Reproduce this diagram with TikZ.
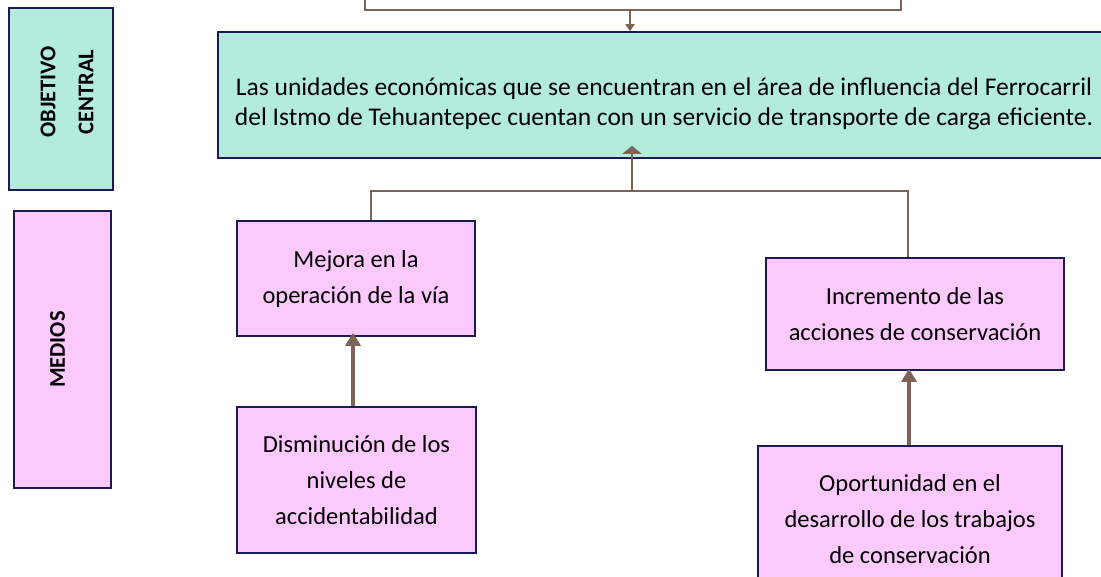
\documentclass[tikz,border=0pt]{standalone}
\usepackage{fontspec}
\setmainfont{Carlito}
\usetikzlibrary{arrows.meta}
\definecolor{mint}{HTML}{B3ECDC}
\definecolor{pinkbox}{HTML}{FCC9FC}
\definecolor{navy}{HTML}{1A1A55}
\definecolor{brownln}{HTML}{7E6357}
\tikzset{
  mintbox/.style={draw=navy, line width=1.6pt, fill=mint, inner sep=0pt},
  pinkbx/.style={draw=navy, line width=1.6pt, fill=pinkbox, inner sep=0pt, align=center,
     font=\fontsize{24.5}{36}\selectfont},
  sidelabel/.style={font=\bfseries\fontsize{22.5}{38}\selectfont, rotate=90, align=center},
  conn/.style={draw=brownln, line width=2.6pt},
  arr/.style={draw=brownln, line width=3.6pt, -{Triangle[width=15pt,length=13pt]}},
  arrsm/.style={draw=brownln, line width=2.4pt, -{Triangle[width=9pt,length=7pt]}},
  arrwide/.style={draw=brownln, line width=2.8pt, -{Triangle[width=19pt,length=8pt]}}
}
\begin{document}
\begin{tikzpicture}[x=1pt,y=-1pt]
\useasboundingbox (0,0) rectangle (1101,577);
\clip (0,0) rectangle (1101,577);
\fill[white] (0,0) rectangle (1101,577);
% side labels
\node[mintbox, minimum width=104pt, minimum height=182pt] (objbox) at (61,99) {};
\node[sidelabel] (objtxt) at ([xshift=6pt,yshift=7pt]objbox.center) {OBJETIVO\\CENTRAL};
\node[draw=navy, line width=1.6pt, fill=pinkbox, minimum width=97pt, minimum height=277pt] (medbox) at (62.5,349.5) {};
\node[sidelabel] (medtxt) at ([xshift=-5pt]medbox.center) {MEDIOS};
% main box
\node[mintbox, minimum width=892pt, minimum height=126pt] (main) at (664,95) {};
\node[align=center, inner sep=0pt, font=\fontsize{25.5}{30}\selectfont] (maintxt)
  at ([yshift=-9pt]main.center)
  {Las unidades económicas que se encuentran en el área de influencia del Ferrocarril\\
   del Istmo de Tehuantepec cuentan con un servicio de transporte de carga eficiente.};
% pink boxes
\node[pinkbx, minimum width=238pt, minimum height=115pt] (mejora) at (356,278.5)
  {Mejora en la\\operación de la vía};
\node[pinkbx, minimum width=239pt, minimum height=146pt] (dism) at (356.5,480)
  {Disminución de los\\niveles de\\accidentabilidad};
\node[pinkbx, minimum width=298pt, minimum height=112pt] (incr) at (915,314)
  {Incremento de las\\acciones de conservación};
\node[pinkbx, minimum width=304pt, minimum height=146pt] (oport) at (910,519)
  {Oportunidad en el\\desarrollo de los trabajos\\de conservación};
% top bracket
\coordinate (tl) at (365,-5);
\coordinate (tr) at (901,-5);
\coordinate (tm) at (630,10);
\draw[conn] (tl) -- (tl |- tm) -- (tr |- tm) -- (tr);
\draw[arrsm] (tm) -- (main.north -| tm);
% lower bracket
\coordinate (jn) at (632,191);
\coordinate (ml) at (371,221);
\coordinate (mr) at (908,258);
\draw[conn] (mejora.north -| ml) -- (ml |- jn) -- (mr |- jn) -- (incr.north -| mr);
\draw[arrwide] (jn) -- ([yshift=13pt]main.south -| jn);
% vertical arrows
\coordinate (ax1) at (353,0);
\coordinate (ax2) at (909,0);
\draw[arr] (dism.north -| ax1) -- ([yshift=4pt]mejora.south -| ax1);
\draw[arr] (oport.north -| ax2) -- ([yshift=2pt]incr.south -| ax2);
\end{tikzpicture}
\end{document}
